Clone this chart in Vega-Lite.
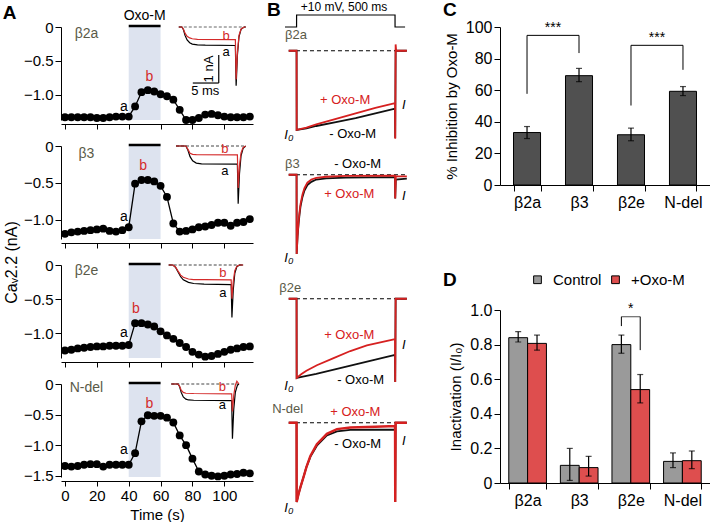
{
"$schema":"https://vega.github.io/schema/vega-lite/v6.json",
"padding":{"left":2,"top":0,"right":0,"bottom":0},
"background":"white",
"config":{"font":"Liberation Sans","view":{"stroke":null},
"axis":{"grid":false,"domainColor":"black","tickColor":"black","labelColor":"black","titleColor":"black","titleFontWeight":"normal","labelFontSize":15,"titleFontSize":15,"tickSize":5,"labelPadding":2,"domainWidth":1,"tickWidth":1,"labelOverlap":false}},
"resolve":{"legend":{"color":"independent"},"scale":{"color":"independent"}},
"datasets":{
"timecourse":[
{"sub":"b2a","t":0,"I":-1.33},{"sub":"b2a","t":4,"I":-1.33},{"sub":"b2a","t":8,"I":-1.33},{"sub":"b2a","t":12,"I":-1.33},{"sub":"b2a","t":16,"I":-1.33},{"sub":"b2a","t":20,"I":-1.34},{"sub":"b2a","t":24,"I":-1.34},{"sub":"b2a","t":28,"I":-1.33},{"sub":"b2a","t":32,"I":-1.32},{"sub":"b2a","t":36,"I":-1.32},{"sub":"b2a","t":40,"I":-1.32},{"sub":"b2a","t":44,"I":-1.17},{"sub":"b2a","t":48,"I":-0.96},{"sub":"b2a","t":52,"I":-0.93},{"sub":"b2a","t":56,"I":-0.95},{"sub":"b2a","t":60,"I":-0.99},{"sub":"b2a","t":64,"I":-1.02},{"sub":"b2a","t":68,"I":-1.07},{"sub":"b2a","t":72,"I":-1.22},{"sub":"b2a","t":76,"I":-1.37},{"sub":"b2a","t":80,"I":-1.37},{"sub":"b2a","t":84,"I":-1.34},{"sub":"b2a","t":88,"I":-1.29},{"sub":"b2a","t":92,"I":-1.28},{"sub":"b2a","t":96,"I":-1.30},{"sub":"b2a","t":100,"I":-1.32},{"sub":"b2a","t":104,"I":-1.33},{"sub":"b2a","t":108,"I":-1.33},{"sub":"b2a","t":112,"I":-1.33},{"sub":"b2a","t":116,"I":-1.32},
{"sub":"b3","t":0,"I":-1.19},{"sub":"b3","t":4,"I":-1.17},{"sub":"b3","t":8,"I":-1.16},{"sub":"b3","t":12,"I":-1.15},{"sub":"b3","t":16,"I":-1.14},{"sub":"b3","t":20,"I":-1.13},{"sub":"b3","t":24,"I":-1.12},{"sub":"b3","t":28,"I":-1.15},{"sub":"b3","t":32,"I":-1.16},{"sub":"b3","t":36,"I":-1.14},{"sub":"b3","t":40,"I":-1.10},{"sub":"b3","t":44,"I":-0.51},{"sub":"b3","t":48,"I":-0.46},{"sub":"b3","t":52,"I":-0.46},{"sub":"b3","t":56,"I":-0.48},{"sub":"b3","t":60,"I":-0.54},{"sub":"b3","t":64,"I":-0.69},{"sub":"b3","t":68,"I":-1.05},{"sub":"b3","t":72,"I":-1.16},{"sub":"b3","t":76,"I":-1.15},{"sub":"b3","t":80,"I":-1.13},{"sub":"b3","t":84,"I":-1.10},{"sub":"b3","t":88,"I":-1.09},{"sub":"b3","t":92,"I":-1.07},{"sub":"b3","t":96,"I":-1.04},{"sub":"b3","t":100,"I":-1.04},{"sub":"b3","t":104,"I":-1.08},{"sub":"b3","t":108,"I":-1.04},{"sub":"b3","t":112,"I":-1.03},{"sub":"b3","t":116,"I":-0.99},
{"sub":"b2e","t":0,"I":-1.25},{"sub":"b2e","t":4,"I":-1.24},{"sub":"b2e","t":8,"I":-1.22},{"sub":"b2e","t":12,"I":-1.21},{"sub":"b2e","t":16,"I":-1.20},{"sub":"b2e","t":20,"I":-1.19},{"sub":"b2e","t":24,"I":-1.19},{"sub":"b2e","t":28,"I":-1.18},{"sub":"b2e","t":32,"I":-1.18},{"sub":"b2e","t":36,"I":-1.18},{"sub":"b2e","t":40,"I":-1.17},{"sub":"b2e","t":44,"I":-0.85},{"sub":"b2e","t":48,"I":-0.85},{"sub":"b2e","t":52,"I":-0.87},{"sub":"b2e","t":56,"I":-0.90},{"sub":"b2e","t":60,"I":-0.97},{"sub":"b2e","t":64,"I":-1.03},{"sub":"b2e","t":68,"I":-1.08},{"sub":"b2e","t":72,"I":-1.14},{"sub":"b2e","t":76,"I":-1.20},{"sub":"b2e","t":80,"I":-1.27},{"sub":"b2e","t":84,"I":-1.31},{"sub":"b2e","t":88,"I":-1.34},{"sub":"b2e","t":92,"I":-1.33},{"sub":"b2e","t":96,"I":-1.30},{"sub":"b2e","t":100,"I":-1.27},{"sub":"b2e","t":104,"I":-1.24},{"sub":"b2e","t":108,"I":-1.22},{"sub":"b2e","t":112,"I":-1.20},{"sub":"b2e","t":116,"I":-1.19},
{"sub":"ndel","t":0,"I":-1.34},{"sub":"ndel","t":4,"I":-1.35},{"sub":"ndel","t":8,"I":-1.34},{"sub":"ndel","t":12,"I":-1.32},{"sub":"ndel","t":16,"I":-1.31},{"sub":"ndel","t":20,"I":-1.31},{"sub":"ndel","t":24,"I":-1.35},{"sub":"ndel","t":28,"I":-1.32},{"sub":"ndel","t":32,"I":-1.32},{"sub":"ndel","t":36,"I":-1.32},{"sub":"ndel","t":40,"I":-1.32},{"sub":"ndel","t":44,"I":-1.13},{"sub":"ndel","t":48,"I":-0.61},{"sub":"ndel","t":52,"I":-0.51},{"sub":"ndel","t":56,"I":-0.52},{"sub":"ndel","t":60,"I":-0.52},{"sub":"ndel","t":64,"I":-0.55},{"sub":"ndel","t":68,"I":-0.63},{"sub":"ndel","t":72,"I":-0.84},{"sub":"ndel","t":76,"I":-1.00},{"sub":"ndel","t":80,"I":-1.22},{"sub":"ndel","t":84,"I":-1.43},{"sub":"ndel","t":88,"I":-1.48},{"sub":"ndel","t":92,"I":-1.50},{"sub":"ndel","t":96,"I":-1.51},{"sub":"ndel","t":100,"I":-1.50},{"sub":"ndel","t":104,"I":-1.48},{"sub":"ndel","t":108,"I":-1.47},{"sub":"ndel","t":112,"I":-1.45},{"sub":"ndel","t":116,"I":-1.46}
],
"insets":[
{"sub":"b2a","cond":"a","t":-0.6,"I":0},{"sub":"b2a","cond":"a","t":0,"I":0},{"sub":"b2a","cond":"a","t":0.3,"I":-0.1},{"sub":"b2a","cond":"a","t":0.6,"I":-0.3},{"sub":"b2a","cond":"a","t":1.0,"I":-0.46},{"sub":"b2a","cond":"a","t":1.5,"I":-0.56},{"sub":"b2a","cond":"a","t":2.0,"I":-0.61},{"sub":"b2a","cond":"a","t":3.0,"I":-0.64},{"sub":"b2a","cond":"a","t":4.5,"I":-0.65},{"sub":"b2a","cond":"a","t":10.3,"I":-0.66},{"sub":"b2a","cond":"a","t":10.45,"I":-2.1},{"sub":"b2a","cond":"a","t":10.7,"I":-1.0},{"sub":"b2a","cond":"a","t":11.0,"I":-0.35},{"sub":"b2a","cond":"a","t":11.4,"I":-0.08},{"sub":"b2a","cond":"a","t":12.0,"I":0},{"sub":"b2a","cond":"a","t":12.3,"I":0},
{"sub":"b2a","cond":"b","t":-0.6,"I":0},{"sub":"b2a","cond":"b","t":0,"I":0},{"sub":"b2a","cond":"b","t":0.3,"I":-0.08},{"sub":"b2a","cond":"b","t":0.6,"I":-0.22},{"sub":"b2a","cond":"b","t":1.0,"I":-0.33},{"sub":"b2a","cond":"b","t":1.5,"I":-0.39},{"sub":"b2a","cond":"b","t":2.0,"I":-0.42},{"sub":"b2a","cond":"b","t":3.0,"I":-0.44},{"sub":"b2a","cond":"b","t":10.3,"I":-0.45},{"sub":"b2a","cond":"b","t":10.45,"I":-1.87},{"sub":"b2a","cond":"b","t":10.7,"I":-0.9},{"sub":"b2a","cond":"b","t":11.0,"I":-0.3},{"sub":"b2a","cond":"b","t":11.4,"I":-0.07},{"sub":"b2a","cond":"b","t":12.0,"I":0},{"sub":"b2a","cond":"b","t":12.3,"I":0},
{"sub":"b3","cond":"a","t":-1.9,"I":0},{"sub":"b3","cond":"a","t":0,"I":0},{"sub":"b3","cond":"a","t":0.4,"I":-0.15},{"sub":"b3","cond":"a","t":0.8,"I":-0.38},{"sub":"b3","cond":"a","t":1.3,"I":-0.53},{"sub":"b3","cond":"a","t":2.0,"I":-0.61},{"sub":"b3","cond":"a","t":3.0,"I":-0.64},{"sub":"b3","cond":"a","t":9.9,"I":-0.65},{"sub":"b3","cond":"a","t":10.05,"I":-2.06},{"sub":"b3","cond":"a","t":10.3,"I":-1.0},{"sub":"b3","cond":"a","t":10.6,"I":-0.35},{"sub":"b3","cond":"a","t":11.0,"I":-0.08},{"sub":"b3","cond":"a","t":11.5,"I":0},
{"sub":"b3","cond":"b","t":-1.9,"I":0},{"sub":"b3","cond":"b","t":0,"I":0},{"sub":"b3","cond":"b","t":0.4,"I":-0.12},{"sub":"b3","cond":"b","t":0.8,"I":-0.26},{"sub":"b3","cond":"b","t":1.3,"I":-0.3},{"sub":"b3","cond":"b","t":2.0,"I":-0.31},{"sub":"b3","cond":"b","t":9.9,"I":-0.32},{"sub":"b3","cond":"b","t":10.05,"I":-1.5},{"sub":"b3","cond":"b","t":10.3,"I":-0.7},{"sub":"b3","cond":"b","t":10.6,"I":-0.25},{"sub":"b3","cond":"b","t":11.0,"I":-0.05},{"sub":"b3","cond":"b","t":11.5,"I":0},
{"sub":"b2e","cond":"a","t":-0.8,"I":0},{"sub":"b2e","cond":"a","t":0,"I":0},{"sub":"b2e","cond":"a","t":0.5,"I":-0.08},{"sub":"b2e","cond":"a","t":1.0,"I":-0.25},{"sub":"b2e","cond":"a","t":1.5,"I":-0.42},{"sub":"b2e","cond":"a","t":2.0,"I":-0.53},{"sub":"b2e","cond":"a","t":3.0,"I":-0.62},{"sub":"b2e","cond":"a","t":4.0,"I":-0.66},{"sub":"b2e","cond":"a","t":6.0,"I":-0.68},{"sub":"b2e","cond":"a","t":11.2,"I":-0.7},{"sub":"b2e","cond":"a","t":11.35,"I":-1.87},{"sub":"b2e","cond":"a","t":11.6,"I":-0.9},{"sub":"b2e","cond":"a","t":11.9,"I":-0.3},{"sub":"b2e","cond":"a","t":12.3,"I":-0.06},{"sub":"b2e","cond":"a","t":12.8,"I":0},{"sub":"b2e","cond":"a","t":13.5,"I":0},
{"sub":"b2e","cond":"b","t":-0.8,"I":0},{"sub":"b2e","cond":"b","t":0,"I":0},{"sub":"b2e","cond":"b","t":0.5,"I":-0.07},{"sub":"b2e","cond":"b","t":1.0,"I":-0.22},{"sub":"b2e","cond":"b","t":1.5,"I":-0.36},{"sub":"b2e","cond":"b","t":2.0,"I":-0.44},{"sub":"b2e","cond":"b","t":3.0,"I":-0.5},{"sub":"b2e","cond":"b","t":4.0,"I":-0.52},{"sub":"b2e","cond":"b","t":6.0,"I":-0.52},{"sub":"b2e","cond":"b","t":11.2,"I":-0.53},{"sub":"b2e","cond":"b","t":11.35,"I":-1.2},{"sub":"b2e","cond":"b","t":11.6,"I":-0.6},{"sub":"b2e","cond":"b","t":11.9,"I":-0.2},{"sub":"b2e","cond":"b","t":12.3,"I":-0.04},{"sub":"b2e","cond":"b","t":12.8,"I":0},{"sub":"b2e","cond":"b","t":13.5,"I":0},
{"sub":"ndel","cond":"a","t":-1.3,"I":0},{"sub":"ndel","cond":"a","t":0,"I":0},{"sub":"ndel","cond":"a","t":0.3,"I":-0.1},{"sub":"ndel","cond":"a","t":0.6,"I":-0.3},{"sub":"ndel","cond":"a","t":1.0,"I":-0.46},{"sub":"ndel","cond":"a","t":1.5,"I":-0.54},{"sub":"ndel","cond":"a","t":2.0,"I":-0.57},{"sub":"ndel","cond":"a","t":3.0,"I":-0.58},{"sub":"ndel","cond":"a","t":10.3,"I":-0.59},{"sub":"ndel","cond":"a","t":10.45,"I":-1.95},{"sub":"ndel","cond":"a","t":10.7,"I":-0.9},{"sub":"ndel","cond":"a","t":11.0,"I":-0.3},{"sub":"ndel","cond":"a","t":11.4,"I":-0.05},{"sub":"ndel","cond":"a","t":11.7,"I":0},
{"sub":"ndel","cond":"b","t":-1.3,"I":0},{"sub":"ndel","cond":"b","t":0,"I":0},{"sub":"ndel","cond":"b","t":0.3,"I":-0.08},{"sub":"ndel","cond":"b","t":0.6,"I":-0.22},{"sub":"ndel","cond":"b","t":1.0,"I":-0.3},{"sub":"ndel","cond":"b","t":1.5,"I":-0.33},{"sub":"ndel","cond":"b","t":3.0,"I":-0.34},{"sub":"ndel","cond":"b","t":10.3,"I":-0.35},{"sub":"ndel","cond":"b","t":10.45,"I":-0.98},{"sub":"ndel","cond":"b","t":10.7,"I":-0.4},{"sub":"ndel","cond":"b","t":11.0,"I":-0.05},{"sub":"ndel","cond":"b","t":11.3,"I":0.1},{"sub":"ndel","cond":"b","t":11.7,"I":0}
],
"traces":[
{"sub":"b2a","cond":"ctrl","t":-40,"I":0},{"sub":"b2a","cond":"ctrl","t":0,"I":0},{"sub":"b2a","cond":"ctrl","t":0.5,"I":-1},{"sub":"b2a","cond":"ctrl","t":50,"I":-0.98},{"sub":"b2a","cond":"ctrl","t":100,"I":-0.95},{"sub":"b2a","cond":"ctrl","t":200,"I":-0.9},{"sub":"b2a","cond":"ctrl","t":300,"I":-0.85},{"sub":"b2a","cond":"ctrl","t":400,"I":-0.79},{"sub":"b2a","cond":"ctrl","t":500,"I":-0.73},{"sub":"b2a","cond":"ctrl","t":501,"I":-1.1},{"sub":"b2a","cond":"ctrl","t":503,"I":0},{"sub":"b2a","cond":"ctrl","t":560,"I":0},
{"sub":"b2a","cond":"oxo","t":-40,"I":0},{"sub":"b2a","cond":"oxo","t":0,"I":0},{"sub":"b2a","cond":"oxo","t":0.5,"I":-1},{"sub":"b2a","cond":"oxo","t":50,"I":-0.97},{"sub":"b2a","cond":"oxo","t":100,"I":-0.93},{"sub":"b2a","cond":"oxo","t":200,"I":-0.86},{"sub":"b2a","cond":"oxo","t":300,"I":-0.79},{"sub":"b2a","cond":"oxo","t":400,"I":-0.72},{"sub":"b2a","cond":"oxo","t":500,"I":-0.66},{"sub":"b2a","cond":"oxo","t":501,"I":-1.11},{"sub":"b2a","cond":"oxo","t":503,"I":0.08},{"sub":"b2a","cond":"oxo","t":506,"I":0},{"sub":"b2a","cond":"oxo","t":560,"I":0},
{"sub":"b3","cond":"ctrl","t":-40,"I":0},{"sub":"b3","cond":"ctrl","t":0,"I":0},{"sub":"b3","cond":"ctrl","t":0.5,"I":-1},{"sub":"b3","cond":"ctrl","t":5,"I":-0.78},{"sub":"b3","cond":"ctrl","t":10,"I":-0.62},{"sub":"b3","cond":"ctrl","t":15,"I":-0.5},{"sub":"b3","cond":"ctrl","t":20,"I":-0.4},{"sub":"b3","cond":"ctrl","t":30,"I":-0.28},{"sub":"b3","cond":"ctrl","t":40,"I":-0.2},{"sub":"b3","cond":"ctrl","t":55,"I":-0.13},{"sub":"b3","cond":"ctrl","t":75,"I":-0.09},{"sub":"b3","cond":"ctrl","t":100,"I":-0.06},{"sub":"b3","cond":"ctrl","t":150,"I":-0.045},{"sub":"b3","cond":"ctrl","t":250,"I":-0.035},{"sub":"b3","cond":"ctrl","t":500,"I":-0.03},{"sub":"b3","cond":"ctrl","t":501,"I":-0.3},{"sub":"b3","cond":"ctrl","t":504,"I":-0.06},{"sub":"b3","cond":"ctrl","t":560,"I":-0.05},
{"sub":"b3","cond":"oxo","t":-40,"I":0},{"sub":"b3","cond":"oxo","t":0,"I":0},{"sub":"b3","cond":"oxo","t":0.5,"I":-1},{"sub":"b3","cond":"oxo","t":5,"I":-0.77},{"sub":"b3","cond":"oxo","t":10,"I":-0.6},{"sub":"b3","cond":"oxo","t":15,"I":-0.47},{"sub":"b3","cond":"oxo","t":20,"I":-0.37},{"sub":"b3","cond":"oxo","t":30,"I":-0.25},{"sub":"b3","cond":"oxo","t":40,"I":-0.17},{"sub":"b3","cond":"oxo","t":55,"I":-0.1},{"sub":"b3","cond":"oxo","t":75,"I":-0.06},{"sub":"b3","cond":"oxo","t":100,"I":-0.04},{"sub":"b3","cond":"oxo","t":150,"I":-0.025},{"sub":"b3","cond":"oxo","t":250,"I":-0.015},{"sub":"b3","cond":"oxo","t":500,"I":-0.01},{"sub":"b3","cond":"oxo","t":501,"I":-0.3},{"sub":"b3","cond":"oxo","t":504,"I":-0.02},{"sub":"b3","cond":"oxo","t":560,"I":-0.02},
{"sub":"b2e","cond":"ctrl","t":-40,"I":0},{"sub":"b2e","cond":"ctrl","t":0,"I":0},{"sub":"b2e","cond":"ctrl","t":0.5,"I":-1},{"sub":"b2e","cond":"ctrl","t":100,"I":-0.95},{"sub":"b2e","cond":"ctrl","t":200,"I":-0.89},{"sub":"b2e","cond":"ctrl","t":300,"I":-0.83},{"sub":"b2e","cond":"ctrl","t":400,"I":-0.77},{"sub":"b2e","cond":"ctrl","t":500,"I":-0.71},{"sub":"b2e","cond":"ctrl","t":501,"I":-1.05},{"sub":"b2e","cond":"ctrl","t":503,"I":0},{"sub":"b2e","cond":"ctrl","t":560,"I":0},
{"sub":"b2e","cond":"oxo","t":-40,"I":0},{"sub":"b2e","cond":"oxo","t":0,"I":0},{"sub":"b2e","cond":"oxo","t":0.5,"I":-1},{"sub":"b2e","cond":"oxo","t":25,"I":-0.95},{"sub":"b2e","cond":"oxo","t":50,"I":-0.91},{"sub":"b2e","cond":"oxo","t":103,"I":-0.84},{"sub":"b2e","cond":"oxo","t":188,"I":-0.75},{"sub":"b2e","cond":"oxo","t":273,"I":-0.66},{"sub":"b2e","cond":"oxo","t":357,"I":-0.59},{"sub":"b2e","cond":"oxo","t":500,"I":-0.51},{"sub":"b2e","cond":"oxo","t":501,"I":-1.05},{"sub":"b2e","cond":"oxo","t":503,"I":0},{"sub":"b2e","cond":"oxo","t":560,"I":0},
{"sub":"ndel","cond":"ctrl","t":-40,"I":0},{"sub":"ndel","cond":"ctrl","t":0,"I":0},{"sub":"ndel","cond":"ctrl","t":0.5,"I":-1},{"sub":"ndel","cond":"ctrl","t":10,"I":-0.9},{"sub":"ndel","cond":"ctrl","t":20,"I":-0.81},{"sub":"ndel","cond":"ctrl","t":36,"I":-0.68},{"sub":"ndel","cond":"ctrl","t":50,"I":-0.56},{"sub":"ndel","cond":"ctrl","t":70,"I":-0.43},{"sub":"ndel","cond":"ctrl","t":103,"I":-0.29},{"sub":"ndel","cond":"ctrl","t":154,"I":-0.16},{"sub":"ndel","cond":"ctrl","t":205,"I":-0.11},{"sub":"ndel","cond":"ctrl","t":273,"I":-0.09},{"sub":"ndel","cond":"ctrl","t":500,"I":-0.085},{"sub":"ndel","cond":"ctrl","t":501,"I":-1.0},{"sub":"ndel","cond":"ctrl","t":503,"I":0},{"sub":"ndel","cond":"ctrl","t":560,"I":0},
{"sub":"ndel","cond":"oxo","t":-40,"I":0},{"sub":"ndel","cond":"oxo","t":0,"I":0},{"sub":"ndel","cond":"oxo","t":0.5,"I":-1},{"sub":"ndel","cond":"oxo","t":10,"I":-0.9},{"sub":"ndel","cond":"oxo","t":20,"I":-0.81},{"sub":"ndel","cond":"oxo","t":36,"I":-0.68},{"sub":"ndel","cond":"oxo","t":50,"I":-0.56},{"sub":"ndel","cond":"oxo","t":70,"I":-0.42},{"sub":"ndel","cond":"oxo","t":103,"I":-0.27},{"sub":"ndel","cond":"oxo","t":154,"I":-0.14},{"sub":"ndel","cond":"oxo","t":205,"I":-0.08},{"sub":"ndel","cond":"oxo","t":273,"I":-0.06},{"sub":"ndel","cond":"oxo","t":400,"I":-0.05},{"sub":"ndel","cond":"oxo","t":500,"I":-0.04},{"sub":"ndel","cond":"oxo","t":501,"I":-1.0},{"sub":"ndel","cond":"oxo","t":503,"I":0},{"sub":"ndel","cond":"oxo","t":560,"I":0}
],
"protocol":[{"t":-59,"mV":-80},{"t":0,"mV":-80},{"t":0.1,"mV":10},{"t":500,"mV":10},{"t":500.1,"mV":-80},{"t":551,"mV":-80}],
"inhib":[{"sub":"β2a","mean":33.2,"lo":29.4,"hi":37.0},{"sub":"β3","mean":69.2,"lo":65.4,"hi":73.8},{"sub":"β2e","mean":31.8,"lo":28.0,"hi":36.0},{"sub":"N-del","mean":59.3,"lo":56.6,"hi":62.3}],
"bracketsC":[{"x1":"β2a","x2":"β3","yTop":94.7,"yL":57.7,"yR":83.5},{"x1":"β2e","x2":"N-del","yTop":88.4,"yL":50.3,"yR":72.9}],
"inact":[{"sub":"β2a","cond":"Control","mean":0.84,"lo":0.815,"hi":0.875},{"sub":"β2a","cond":"+Oxo-M","mean":0.807,"lo":0.768,"hi":0.855},{"sub":"β3","cond":"Control","mean":0.102,"lo":0.015,"hi":0.2},{"sub":"β3","cond":"+Oxo-M","mean":0.089,"lo":0.04,"hi":0.154},{"sub":"β2e","cond":"Control","mean":0.8,"lo":0.75,"hi":0.855},{"sub":"β2e","cond":"+Oxo-M","mean":0.54,"lo":0.463,"hi":0.627},{"sub":"N-del","cond":"Control","mean":0.125,"lo":0.089,"hi":0.174},{"sub":"N-del","cond":"+Oxo-M","mean":0.129,"lo":0.083,"hi":0.185}],
"bracketD":[{"sub":"β2e","cond":"Control","y1":0.907,"y2":0.961},{"sub":"β2e","cond":"+Oxo-M","y1":0.768,"y2":0.961}]
},
"spacing":13,
"hconcat":[
{"vconcat":[
{"width":192,"height":93,
"layer":[
{"encoding":{"x":{"field":"t","type":"quantitative","scale":{"domain":[-2.5,118],"nice":false,"zero":false},"axis":{"title":null,"values":[0,20,40,60,80,100],"labels":false,"offset":4}},"y":{"field":"I","type":"quantitative","scale":{"domain":[-1.37,0],"nice":false,"zero":false},"axis":{"title":null,"values":[0,-0.5,-1],"labelExpr":"datum.value == 0 ? '0' : format(datum.value, '.1f')","tickSize":6}}},
"layer":[
{"data":{"name":"timecourse"},"transform":[{"filter":"datum.sub=='b2a' && datum.t==0"}],"mark":{"type":"rect","color":"#dde3ef"},"encoding":{"x":{"datum":40},"x2":{"datum":60},"y":{"datum":0},"y2":{"datum":-1.37}}},
{"data":{"name":"timecourse"},"transform":[{"filter":"datum.sub=='b2a' && datum.t==0"}],"mark":{"type":"rule","color":"black","strokeWidth":2.5},"encoding":{"x":{"datum":40},"x2":{"datum":60},"y":{"datum":0.015}}},
{"data":{"name":"timecourse"},"transform":[{"filter":"datum.sub=='b2a' && datum.t==0"}],"mark":{"type":"text","fontSize":14,"color":"black","baseline":"middle"},"encoding":{"x":{"datum":50},"y":{"datum":0.16},"text":{"value":"Oxo-M"}}},
{"data":{"name":"timecourse"},"transform":[{"filter":"datum.sub=='b2a' && datum.t==0"}],"mark":{"type":"text","fontSize":19,"fontWeight":"bold","color":"black","baseline":"alphabetic","align":"left"},"encoding":{"x":{"datum":-39},"y":{"datum":0.118},"text":{"value":"A"}}},
{"data":{"name":"timecourse"},"transform":[{"filter":"datum.sub=='b2a'"}],"mark":{"type":"line","color":"black","strokeWidth":1.3}},
{"data":{"name":"timecourse"},"transform":[{"filter":"datum.sub=='b2a'"}],"mark":{"type":"circle","size":62,"color":"black","opacity":1}},
{"data":{"name":"timecourse"},"transform":[{"filter":"datum.sub=='b2a' && datum.t==0"}],"mark":{"type":"text","fontSize":14,"color":"black","baseline":"middle"},"encoding":{"x":{"datum":37},"y":{"datum":-1.18},"text":{"value":"a"}}},
{"data":{"name":"timecourse"},"transform":[{"filter":"datum.sub=='b2a' && datum.t==0"}],"mark":{"type":"text","fontSize":14,"color":"#d42a2a","baseline":"middle"},"encoding":{"x":{"datum":53},"y":{"datum":-0.74},"text":{"value":"b"}}},
{"data":{"name":"timecourse"},"transform":[{"filter":"datum.sub=='b2a' && datum.t==0"}],"mark":{"type":"text","fontSize":14,"color":"#5a5a48","baseline":"middle"},"encoding":{"x":{"datum":13.5},"y":{"datum":-0.1},"text":{"value":"β2a"}}}
]},
{"encoding":{"x":{"field":"t","type":"quantitative","scale":{"domain":[-23.3,13.7],"nice":false,"zero":false},"axis":{"domain":false,"ticks":false,"labels":false,"title":null,"minExtent":0,"maxExtent":0}},"y":{"field":"I","type":"quantitative","scale":{"domain":[-3.32,0],"nice":false,"zero":false},"axis":{"domain":false,"ticks":false,"labels":false,"title":null,"minExtent":0,"maxExtent":0}}},
"layer":[
{"data":{"name":"insets"},"transform":[{"filter":"datum.sub=='b2a' && datum.cond=='a' && datum.t==0"}],"mark":{"type":"rule","strokeDash":[3,2],"color":"#666","strokeWidth":1},"encoding":{"x":{"datum":-0.6},"x2":{"datum":12.3},"y":{"datum":0}}},
{"data":{"name":"insets"},"transform":[{"filter":"datum.sub=='b2a' && datum.cond=='a'"}],"mark":{"type":"line","color":"black","strokeWidth":1.2}},
{"data":{"name":"insets"},"transform":[{"filter":"datum.sub=='b2a' && datum.cond=='b'"}],"mark":{"type":"line","color":"#d42a2a","strokeWidth":1.2}},
{"data":{"name":"insets"},"transform":[{"filter":"datum.sub=='b2a' && datum.cond=='a' && datum.t==0"}],"mark":{"type":"rule","color":"black","strokeWidth":1.2},"encoding":{"x":{"datum":7.1},"y":{"datum":-1},"y2":{"datum":-2}}},
{"data":{"name":"insets"},"transform":[{"filter":"datum.sub=='b2a' && datum.cond=='a' && datum.t==0"}],"mark":{"type":"rule","color":"black","strokeWidth":1.2},"encoding":{"x":{"datum":2.1},"x2":{"datum":7.1},"y":{"datum":-2}}},
{"data":{"name":"insets"},"transform":[{"filter":"datum.sub=='b2a' && datum.cond=='a' && datum.t==0"}],"mark":{"type":"text","fontSize":13,"angle":270,"baseline":"middle","color":"black"},"encoding":{"x":{"datum":5.2},"y":{"datum":-1.5},"text":{"value":"1 nA"}}},
{"data":{"name":"insets"},"transform":[{"filter":"datum.sub=='b2a' && datum.cond=='a' && datum.t==0"}],"mark":{"type":"text","fontSize":13,"baseline":"middle","color":"black"},"encoding":{"x":{"datum":4.5},"y":{"datum":-2.3},"text":{"value":"5 ms"}}},
{"data":{"name":"insets"},"transform":[{"filter":"datum.sub=='b2a' && datum.cond=='a' && datum.t==0"}],"mark":{"type":"text","fontSize":13,"baseline":"middle","color":"#d42a2a"},"encoding":{"x":{"datum":8.5},"y":{"datum":-0.32},"text":{"value":"b"}}},
{"data":{"name":"insets"},"transform":[{"filter":"datum.sub=='b2a' && datum.cond=='a' && datum.t==0"}],"mark":{"type":"text","fontSize":13,"baseline":"middle","color":"black"},"encoding":{"x":{"datum":8.5},"y":{"datum":-0.9},"text":{"value":"a"}}}
]}
],
"resolve":{"scale":{"x":"independent","y":"independent"}}},

{"width":192,"height":93,
"layer":[
{"encoding":{"x":{"field":"t","type":"quantitative","scale":{"domain":[-2.5,118],"nice":false,"zero":false},"axis":{"title":null,"values":[0,20,40,60,80,100],"labels":false,"offset":4}},"y":{"field":"I","type":"quantitative","scale":{"domain":[-1.26,0],"nice":false,"zero":false},"axis":{"title":null,"values":[0,-0.5,-1],"labelExpr":"datum.value == 0 ? '0' : format(datum.value, '.1f')","tickSize":6}}},
"layer":[
{"data":{"name":"timecourse"},"transform":[{"filter":"datum.sub=='b3' && datum.t==0"}],"mark":{"type":"rect","color":"#dde3ef"},"encoding":{"x":{"datum":40},"x2":{"datum":60},"y":{"datum":0},"y2":{"datum":-1.26}}},
{"data":{"name":"timecourse"},"transform":[{"filter":"datum.sub=='b3' && datum.t==0"}],"mark":{"type":"rule","color":"black","strokeWidth":2.5},"encoding":{"x":{"datum":40},"x2":{"datum":60},"y":{"datum":0.015}}},
{"data":{"name":"timecourse"},"transform":[{"filter":"datum.sub=='b3'"}],"mark":{"type":"line","color":"black","strokeWidth":1.3}},
{"data":{"name":"timecourse"},"transform":[{"filter":"datum.sub=='b3'"}],"mark":{"type":"circle","size":62,"color":"black","opacity":1}},
{"data":{"name":"timecourse"},"transform":[{"filter":"datum.sub=='b3' && datum.t==0"}],"mark":{"type":"text","fontSize":14,"color":"black","baseline":"middle"},"encoding":{"x":{"datum":37},"y":{"datum":-0.96},"text":{"value":"a"}}},
{"data":{"name":"timecourse"},"transform":[{"filter":"datum.sub=='b3' && datum.t==0"}],"mark":{"type":"text","fontSize":14,"color":"#d42a2a","baseline":"middle"},"encoding":{"x":{"datum":49},"y":{"datum":-0.27},"text":{"value":"b"}}},
{"data":{"name":"timecourse"},"transform":[{"filter":"datum.sub=='b3' && datum.t==0"}],"mark":{"type":"text","fontSize":14,"color":"#5a5a48","baseline":"middle"},"encoding":{"x":{"datum":13.5},"y":{"datum":-0.11},"text":{"value":"β3"}}}
]},
{"encoding":{"x":{"field":"t","type":"quantitative","scale":{"domain":[-24.0,12.9],"nice":false,"zero":false},"axis":{"domain":false,"ticks":false,"labels":false,"title":null,"minExtent":0,"maxExtent":0}},"y":{"field":"I","type":"quantitative","scale":{"domain":[-3.32,0],"nice":false,"zero":false},"axis":{"domain":false,"ticks":false,"labels":false,"title":null,"minExtent":0,"maxExtent":0}}},
"layer":[
{"data":{"name":"insets"},"transform":[{"filter":"datum.sub=='b3' && datum.cond=='a' && datum.t==0"}],"mark":{"type":"rule","strokeDash":[3,2],"color":"#444","strokeWidth":1},"encoding":{"x":{"datum":-1.9},"x2":{"datum":11.5},"y":{"datum":0}}},
{"data":{"name":"insets"},"transform":[{"filter":"datum.sub=='b3' && datum.cond=='a'"}],"mark":{"type":"line","color":"black","strokeWidth":1.2}},
{"data":{"name":"insets"},"transform":[{"filter":"datum.sub=='b3' && datum.cond=='b'"}],"mark":{"type":"line","color":"#d42a2a","strokeWidth":1.2}},
{"data":{"name":"insets"},"transform":[{"filter":"datum.sub=='b3' && datum.cond=='a' && datum.t==0"}],"mark":{"type":"text","fontSize":13,"baseline":"middle","color":"#d42a2a"},"encoding":{"x":{"datum":7.5},"y":{"datum":-0.11},"text":{"value":"b"}}},
{"data":{"name":"insets"},"transform":[{"filter":"datum.sub=='b3' && datum.cond=='a' && datum.t==0"}],"mark":{"type":"text","fontSize":13,"baseline":"middle","color":"black"},"encoding":{"x":{"datum":7.5},"y":{"datum":-0.9},"text":{"value":"a"}}}
]}
],
"resolve":{"scale":{"x":"independent","y":"independent"}}},

{"width":192,"height":93,
"layer":[
{"encoding":{"x":{"field":"t","type":"quantitative","scale":{"domain":[-2.5,118],"nice":false,"zero":false},"axis":{"title":null,"values":[0,20,40,60,80,100],"labels":false,"offset":4}},"y":{"field":"I","type":"quantitative","scale":{"domain":[-1.36,0],"nice":false,"zero":false},"axis":{"title":"Caᵥ2.2 (nA)","titleFontSize":16,"titleY":-3,"titlePadding":4,"values":[0,-0.5,-1],"labelExpr":"datum.value == 0 ? '0' : format(datum.value, '.1f')","tickSize":6}}},
"layer":[
{"data":{"name":"timecourse"},"transform":[{"filter":"datum.sub=='b2e' && datum.t==0"}],"mark":{"type":"rect","color":"#dde3ef"},"encoding":{"x":{"datum":40},"x2":{"datum":60},"y":{"datum":0},"y2":{"datum":-1.36}}},
{"data":{"name":"timecourse"},"transform":[{"filter":"datum.sub=='b2e' && datum.t==0"}],"mark":{"type":"rule","color":"black","strokeWidth":2.5},"encoding":{"x":{"datum":40},"x2":{"datum":60},"y":{"datum":0.015}}},
{"data":{"name":"timecourse"},"transform":[{"filter":"datum.sub=='b2e'"}],"mark":{"type":"line","color":"black","strokeWidth":1.3}},
{"data":{"name":"timecourse"},"transform":[{"filter":"datum.sub=='b2e'"}],"mark":{"type":"circle","size":62,"color":"black","opacity":1}},
{"data":{"name":"timecourse"},"transform":[{"filter":"datum.sub=='b2e' && datum.t==0"}],"mark":{"type":"text","fontSize":14,"color":"black","baseline":"middle"},"encoding":{"x":{"datum":37},"y":{"datum":-1.0},"text":{"value":"a"}}},
{"data":{"name":"timecourse"},"transform":[{"filter":"datum.sub=='b2e' && datum.t==0"}],"mark":{"type":"text","fontSize":14,"color":"#d42a2a","baseline":"middle"},"encoding":{"x":{"datum":44.5},"y":{"datum":-0.65},"text":{"value":"b"}}},
{"data":{"name":"timecourse"},"transform":[{"filter":"datum.sub=='b2e' && datum.t==0"}],"mark":{"type":"text","fontSize":14,"color":"#5a5a48","baseline":"middle"},"encoding":{"x":{"datum":13.5},"y":{"datum":-0.09},"text":{"value":"β2e"}}}
]},
{"encoding":{"x":{"field":"t","type":"quantitative","scale":{"domain":[-21.5,15.4],"nice":false,"zero":false},"axis":{"domain":false,"ticks":false,"labels":false,"title":null,"minExtent":0,"maxExtent":0}},"y":{"field":"I","type":"quantitative","scale":{"domain":[-3.32,0],"nice":false,"zero":false},"axis":{"domain":false,"ticks":false,"labels":false,"title":null,"minExtent":0,"maxExtent":0}}},
"layer":[
{"data":{"name":"insets"},"transform":[{"filter":"datum.sub=='b2e' && datum.cond=='a' && datum.t==0"}],"mark":{"type":"rule","strokeDash":[3,2],"color":"#444","strokeWidth":1},"encoding":{"x":{"datum":-0.8},"x2":{"datum":13.5},"y":{"datum":0}}},
{"data":{"name":"insets"},"transform":[{"filter":"datum.sub=='b2e' && datum.cond=='a'"}],"mark":{"type":"line","color":"black","strokeWidth":1.2}},
{"data":{"name":"insets"},"transform":[{"filter":"datum.sub=='b2e' && datum.cond=='b'"}],"mark":{"type":"line","color":"#d42a2a","strokeWidth":1.2}},
{"data":{"name":"insets"},"transform":[{"filter":"datum.sub=='b2e' && datum.cond=='a' && datum.t==0"}],"mark":{"type":"text","fontSize":13,"baseline":"middle","color":"#d42a2a"},"encoding":{"x":{"datum":9.6},"y":{"datum":-0.29},"text":{"value":"b"}}},
{"data":{"name":"insets"},"transform":[{"filter":"datum.sub=='b2e' && datum.cond=='a' && datum.t==0"}],"mark":{"type":"text","fontSize":13,"baseline":"middle","color":"black"},"encoding":{"x":{"datum":9.6},"y":{"datum":-1.0},"text":{"value":"a"}}}
]}
],
"resolve":{"scale":{"x":"independent","y":"independent"}}},

{"width":192,"height":93,
"layer":[
{"encoding":{"x":{"field":"t","type":"quantitative","scale":{"domain":[-2.5,118],"nice":false,"zero":false},"axis":{"title":"Time (s)","titlePadding":4,"values":[0,20,40,60,80,100],"labels":true,"offset":4}},"y":{"field":"I","type":"quantitative","scale":{"domain":[-1.52,0],"nice":false,"zero":false},"axis":{"title":null,"values":[0,-0.5,-1,-1.5],"labelExpr":"datum.value == 0 ? '0' : format(datum.value, '.1f')","tickSize":6}}},
"layer":[
{"data":{"name":"timecourse"},"transform":[{"filter":"datum.sub=='ndel' && datum.t==0"}],"mark":{"type":"rect","color":"#dde3ef"},"encoding":{"x":{"datum":40},"x2":{"datum":60},"y":{"datum":0},"y2":{"datum":-1.52}}},
{"data":{"name":"timecourse"},"transform":[{"filter":"datum.sub=='ndel' && datum.t==0"}],"mark":{"type":"rule","color":"black","strokeWidth":2.5},"encoding":{"x":{"datum":40},"x2":{"datum":60},"y":{"datum":0.015}}},
{"data":{"name":"timecourse"},"transform":[{"filter":"datum.sub=='ndel'"}],"mark":{"type":"line","color":"black","strokeWidth":1.3}},
{"data":{"name":"timecourse"},"transform":[{"filter":"datum.sub=='ndel'"}],"mark":{"type":"circle","size":62,"color":"black","opacity":1}},
{"data":{"name":"timecourse"},"transform":[{"filter":"datum.sub=='ndel' && datum.t==0"}],"mark":{"type":"text","fontSize":14,"color":"black","baseline":"middle"},"encoding":{"x":{"datum":37},"y":{"datum":-1.08},"text":{"value":"a"}}},
{"data":{"name":"timecourse"},"transform":[{"filter":"datum.sub=='ndel' && datum.t==0"}],"mark":{"type":"text","fontSize":14,"color":"#d42a2a","baseline":"middle"},"encoding":{"x":{"datum":53},"y":{"datum":-0.32},"text":{"value":"b"}}},
{"data":{"name":"timecourse"},"transform":[{"filter":"datum.sub=='ndel' && datum.t==0"}],"mark":{"type":"text","fontSize":14,"color":"#5a5a48","baseline":"middle"},"encoding":{"x":{"datum":13.5},"y":{"datum":-0.07},"text":{"value":"N-del"}}}
]},
{"encoding":{"x":{"field":"t","type":"quantitative","scale":{"domain":[-22.5,14.4],"nice":false,"zero":false},"axis":{"domain":false,"ticks":false,"labels":false,"title":null,"minExtent":0,"maxExtent":0}},"y":{"field":"I","type":"quantitative","scale":{"domain":[-3.32,0],"nice":false,"zero":false},"axis":{"domain":false,"ticks":false,"labels":false,"title":null,"minExtent":0,"maxExtent":0}}},
"layer":[
{"data":{"name":"insets"},"transform":[{"filter":"datum.sub=='ndel' && datum.cond=='a' && datum.t==0"}],"mark":{"type":"rule","strokeDash":[3,2],"color":"#444","strokeWidth":1},"encoding":{"x":{"datum":-1.3},"x2":{"datum":11.7},"y":{"datum":0}}},
{"data":{"name":"insets"},"transform":[{"filter":"datum.sub=='ndel' && datum.cond=='a'"}],"mark":{"type":"line","color":"black","strokeWidth":1.2}},
{"data":{"name":"insets"},"transform":[{"filter":"datum.sub=='ndel' && datum.cond=='b'"}],"mark":{"type":"line","color":"#d42a2a","strokeWidth":1.2}},
{"data":{"name":"insets"},"transform":[{"filter":"datum.sub=='ndel' && datum.cond=='a' && datum.t==0"}],"mark":{"type":"text","fontSize":13,"baseline":"middle","color":"#d42a2a"},"encoding":{"x":{"datum":8.5},"y":{"datum":-0.11},"text":{"value":"b"}}},
{"data":{"name":"insets"},"transform":[{"filter":"datum.sub=='ndel' && datum.cond=='a' && datum.t==0"}],"mark":{"type":"text","fontSize":13,"baseline":"middle","color":"black"},"encoding":{"x":{"datum":8.5},"y":{"datum":-0.75},"text":{"value":"a"}}}
]}
],
"resolve":{"scale":{"x":"independent","y":"independent"}}}
],"spacing":26,"bounds":"flush"},

{"vconcat":[
{"width":147,"height":118,
"layer":[
{"encoding":{"x":{"field":"t","type":"quantitative","scale":{"domain":[-74,672.5],"nice":false,"zero":false},"axis":{"domain":false,"ticks":false,"labels":false,"title":null,"minExtent":0,"maxExtent":0}},"y":{"field":"I","type":"quantitative","scale":{"domain":[-1.19,0.3],"nice":false,"zero":false},"axis":{"domain":false,"ticks":false,"labels":false,"title":null,"minExtent":0,"maxExtent":0}}},
"layer":[
{"data":{"name":"traces"},"transform":[{"filter":"datum.sub=='b2a' && datum.cond=='ctrl' && datum.t==0"}],"mark":{"type":"rule","strokeDash":[4,3],"color":"black","strokeWidth":1},"encoding":{"x":{"datum":-3},"x2":{"datum":560},"y":{"datum":0}}},
{"data":{"name":"traces"},"transform":[{"filter":"datum.sub=='b2a' && datum.cond=='ctrl'"}],"mark":{"type":"line","color":"#111","strokeWidth":1.8}},
{"data":{"name":"traces"},"transform":[{"filter":"datum.sub=='b2a' && datum.cond=='oxo'"}],"mark":{"type":"line","color":"#d62020","strokeWidth":1.8}},
{"data":{"name":"traces"},"transform":[{"filter":"datum.sub=='b2a' && datum.cond=='ctrl' && datum.t==0"}],"mark":{"type":"text","fontSize":19,"fontWeight":"bold","color":"black","baseline":"alphabetic","align":"left"},"encoding":{"x":{"datum":-150},"y":{"datum":0.443},"text":{"value":"B"}}},
{"data":{"name":"traces"},"transform":[{"filter":"datum.sub=='b2a' && datum.cond=='ctrl' && datum.t==0"}],"mark":{"type":"text","fontSize":13,"color":"#5a5a48","baseline":"middle","align":"left"},"encoding":{"x":{"datum":-59},"y":{"datum":0.2},"text":{"value":"β2a"}}},
{"data":{"name":"traces"},"transform":[{"filter":"datum.sub=='b2a' && datum.cond=='ctrl' && datum.t==0"}],"mark":{"type":"text","fontSize":13,"color":"#d62020","baseline":"middle","align":"left"},"encoding":{"x":{"datum":119},"y":{"datum":-0.62},"text":{"value":"+ Oxo-M"}}},
{"data":{"name":"traces"},"transform":[{"filter":"datum.sub=='b2a' && datum.cond=='ctrl' && datum.t==0"}],"mark":{"type":"text","fontSize":13,"color":"black","baseline":"middle","align":"left"},"encoding":{"x":{"datum":166},"y":{"datum":-1.05},"text":{"value":"- Oxo-M"}}},
{"data":{"name":"traces"},"transform":[{"filter":"datum.sub=='b2a' && datum.cond=='ctrl' && datum.t==0"}],"mark":{"type":"text","fontSize":13,"color":"black","baseline":"middle","fontStyle":"italic"},"encoding":{"x":{"datum":545},"y":{"datum":-0.68},"text":{"value":"I"}}},
{"data":{"name":"traces"},"transform":[{"filter":"datum.sub=='b2a' && datum.cond=='ctrl' && datum.t==0"}],"mark":{"type":"text","fontSize":13,"color":"black","baseline":"middle","fontStyle":"italic"},"encoding":{"x":{"datum":-39},"y":{"datum":-1.06},"text":{"value":"I₀"}}}
]},
{"encoding":{"x":{"field":"t","type":"quantitative","scale":{"domain":[-74,672.5],"nice":false,"zero":false},"axis":{"domain":false,"ticks":false,"labels":false,"title":null,"minExtent":0,"maxExtent":0}},"y":{"field":"mV","type":"quantitative","scale":{"domain":[-965,-80],"nice":false,"zero":false},"axis":{"domain":false,"ticks":false,"labels":false,"title":null,"minExtent":0,"maxExtent":0}}},
"layer":[
{"data":{"name":"protocol"},"mark":{"type":"line","color":"black","strokeWidth":1.2}},
{"data":{"name":"protocol"},"transform":[{"filter":"datum.t==0"}],"mark":{"type":"text","fontSize":12,"color":"black","baseline":"middle"},"encoding":{"x":{"datum":241},"y":{"datum":70},"text":{"value":"+10 mV, 500 ms"}}}
]}
],
"resolve":{"scale":{"y":"independent"}}},

{"width":147,"height":118,
"encoding":{"x":{"field":"t","type":"quantitative","scale":{"domain":[-74,672.5],"nice":false,"zero":false},"axis":{"domain":false,"ticks":false,"labels":false,"title":null,"minExtent":0,"maxExtent":0}},"y":{"field":"I","type":"quantitative","scale":{"domain":[-1.19,0.3],"nice":false,"zero":false},"axis":{"domain":false,"ticks":false,"labels":false,"title":null,"minExtent":0,"maxExtent":0}}},
"layer":[
{"data":{"name":"traces"},"transform":[{"filter":"datum.sub=='b3' && datum.cond=='ctrl' && datum.t==0"}],"mark":{"type":"rule","strokeDash":[4,3],"color":"black","strokeWidth":1},"encoding":{"x":{"datum":-3},"x2":{"datum":560},"y":{"datum":0}}},
{"data":{"name":"traces"},"transform":[{"filter":"datum.sub=='b3' && datum.cond=='ctrl'"}],"mark":{"type":"line","color":"#111","strokeWidth":1.8}},
{"data":{"name":"traces"},"transform":[{"filter":"datum.sub=='b3' && datum.cond=='oxo'"}],"mark":{"type":"line","color":"#d62020","strokeWidth":1.8}},
{"data":{"name":"traces"},"transform":[{"filter":"datum.sub=='b3' && datum.cond=='ctrl' && datum.t==0"}],"mark":{"type":"text","fontSize":13,"color":"#5a5a48","baseline":"middle","align":"left"},"encoding":{"x":{"datum":-59},"y":{"datum":0.13},"text":{"value":"β3"}}},
{"data":{"name":"traces"},"transform":[{"filter":"datum.sub=='b3' && datum.cond=='ctrl' && datum.t==0"}],"mark":{"type":"text","fontSize":13,"color":"black","baseline":"middle","align":"left"},"encoding":{"x":{"datum":191},"y":{"datum":0.13},"text":{"value":"- Oxo-M"}}},
{"data":{"name":"traces"},"transform":[{"filter":"datum.sub=='b3' && datum.cond=='ctrl' && datum.t==0"}],"mark":{"type":"text","fontSize":13,"color":"#d62020","baseline":"middle","align":"left"},"encoding":{"x":{"datum":140},"y":{"datum":-0.24},"text":{"value":"+ Oxo-M"}}},
{"data":{"name":"traces"},"transform":[{"filter":"datum.sub=='b3' && datum.cond=='ctrl' && datum.t==0"}],"mark":{"type":"text","fontSize":13,"color":"black","baseline":"middle","fontStyle":"italic"},"encoding":{"x":{"datum":545},"y":{"datum":-0.27},"text":{"value":"I"}}},
{"data":{"name":"traces"},"transform":[{"filter":"datum.sub=='b3' && datum.cond=='ctrl' && datum.t==0"}],"mark":{"type":"text","fontSize":13,"color":"black","baseline":"middle","fontStyle":"italic"},"encoding":{"x":{"datum":-39},"y":{"datum":-1.05},"text":{"value":"I₀"}}}
]},

{"width":147,"height":118,
"encoding":{"x":{"field":"t","type":"quantitative","scale":{"domain":[-74,672.5],"nice":false,"zero":false},"axis":{"domain":false,"ticks":false,"labels":false,"title":null,"minExtent":0,"maxExtent":0}},"y":{"field":"I","type":"quantitative","scale":{"domain":[-1.19,0.3],"nice":false,"zero":false},"axis":{"domain":false,"ticks":false,"labels":false,"title":null,"minExtent":0,"maxExtent":0}}},
"layer":[
{"data":{"name":"traces"},"transform":[{"filter":"datum.sub=='b2e' && datum.cond=='ctrl' && datum.t==0"}],"mark":{"type":"rule","strokeDash":[4,3],"color":"black","strokeWidth":1},"encoding":{"x":{"datum":-3},"x2":{"datum":560},"y":{"datum":0}}},
{"data":{"name":"traces"},"transform":[{"filter":"datum.sub=='b2e' && datum.cond=='ctrl'"}],"mark":{"type":"line","color":"#111","strokeWidth":1.8}},
{"data":{"name":"traces"},"transform":[{"filter":"datum.sub=='b2e' && datum.cond=='oxo'"}],"mark":{"type":"line","color":"#d62020","strokeWidth":1.8}},
{"data":{"name":"traces"},"transform":[{"filter":"datum.sub=='b2e' && datum.cond=='ctrl' && datum.t==0"}],"mark":{"type":"text","fontSize":13,"color":"#5a5a48","baseline":"middle","align":"left"},"encoding":{"x":{"datum":-88},"y":{"datum":0.14},"text":{"value":"β2e"}}},
{"data":{"name":"traces"},"transform":[{"filter":"datum.sub=='b2e' && datum.cond=='ctrl' && datum.t==0"}],"mark":{"type":"text","fontSize":13,"color":"#d62020","baseline":"middle","align":"left"},"encoding":{"x":{"datum":140},"y":{"datum":-0.46},"text":{"value":"+ Oxo-M"}}},
{"data":{"name":"traces"},"transform":[{"filter":"datum.sub=='b2e' && datum.cond=='ctrl' && datum.t==0"}],"mark":{"type":"text","fontSize":13,"color":"black","baseline":"middle","align":"left"},"encoding":{"x":{"datum":206},"y":{"datum":-1.03},"text":{"value":"- Oxo-M"}}},
{"data":{"name":"traces"},"transform":[{"filter":"datum.sub=='b2e' && datum.cond=='ctrl' && datum.t==0"}],"mark":{"type":"text","fontSize":13,"color":"black","baseline":"middle","fontStyle":"italic"},"encoding":{"x":{"datum":545},"y":{"datum":-0.59},"text":{"value":"I"}}},
{"data":{"name":"traces"},"transform":[{"filter":"datum.sub=='b2e' && datum.cond=='ctrl' && datum.t==0"}],"mark":{"type":"text","fontSize":13,"color":"black","baseline":"middle","fontStyle":"italic"},"encoding":{"x":{"datum":-39},"y":{"datum":-1.1},"text":{"value":"I₀"}}}
]},

{"width":147,"height":118,
"encoding":{"x":{"field":"t","type":"quantitative","scale":{"domain":[-74,672.5],"nice":false,"zero":false},"axis":{"domain":false,"ticks":false,"labels":false,"title":null,"minExtent":0,"maxExtent":0}},"y":{"field":"I","type":"quantitative","scale":{"domain":[-1.19,0.3],"nice":false,"zero":false},"axis":{"domain":false,"ticks":false,"labels":false,"title":null,"minExtent":0,"maxExtent":0}}},
"layer":[
{"data":{"name":"traces"},"transform":[{"filter":"datum.sub=='ndel' && datum.cond=='ctrl' && datum.t==0"}],"mark":{"type":"rule","strokeDash":[4,3],"color":"black","strokeWidth":1},"encoding":{"x":{"datum":-3},"x2":{"datum":560},"y":{"datum":0}}},
{"data":{"name":"traces"},"transform":[{"filter":"datum.sub=='ndel' && datum.cond=='ctrl'"}],"mark":{"type":"line","color":"#111","strokeWidth":1.8}},
{"data":{"name":"traces"},"transform":[{"filter":"datum.sub=='ndel' && datum.cond=='oxo'"}],"mark":{"type":"line","color":"#d62020","strokeWidth":2.4}},
{"data":{"name":"traces"},"transform":[{"filter":"datum.sub=='ndel' && datum.cond=='ctrl' && datum.t==0"}],"mark":{"type":"text","fontSize":13,"color":"#5a5a48","baseline":"middle","align":"left"},"encoding":{"x":{"datum":-124},"y":{"datum":0.18},"text":{"value":"N-del"}}},
{"data":{"name":"traces"},"transform":[{"filter":"datum.sub=='ndel' && datum.cond=='ctrl' && datum.t==0"}],"mark":{"type":"text","fontSize":13,"color":"#d62020","baseline":"middle","align":"left"},"encoding":{"x":{"datum":171},"y":{"datum":0.13},"text":{"value":"+ Oxo-M"}}},
{"data":{"name":"traces"},"transform":[{"filter":"datum.sub=='ndel' && datum.cond=='ctrl' && datum.t==0"}],"mark":{"type":"text","fontSize":13,"color":"black","baseline":"middle","align":"left"},"encoding":{"x":{"datum":191},"y":{"datum":-0.27},"text":{"value":"- Oxo-M"}}},
{"data":{"name":"traces"},"transform":[{"filter":"datum.sub=='ndel' && datum.cond=='ctrl' && datum.t==0"}],"mark":{"type":"text","fontSize":13,"color":"black","baseline":"middle","fontStyle":"italic"},"encoding":{"x":{"datum":545},"y":{"datum":-0.23},"text":{"value":"I"}}},
{"data":{"name":"traces"},"transform":[{"filter":"datum.sub=='ndel' && datum.cond=='ctrl' && datum.t==0"}],"mark":{"type":"text","fontSize":13,"color":"black","baseline":"middle","fontStyle":"italic"},"encoding":{"x":{"datum":-39},"y":{"datum":-1.08},"text":{"value":"I₀"}}}
]}
],"spacing":6},

{"vconcat":[
{"width":210,"height":158,
"encoding":{"x":{"field":"sub","type":"nominal","sort":["β2a","β3","β2e","N-del"],"scale":{"domain":["β2a","β3","β2e","N-del"],"paddingInner":0.48,"paddingOuter":0.26},"axis":{"title":null,"labelAngle":0,"tickBand":"extent","labelFontSize":16,"tickSize":6,"labelPadding":3}}},
"layer":[
{"data":{"name":"inhib"},"mark":{"type":"bar","color":"#505050","stroke":"black","strokeWidth":1},"encoding":{"y":{"field":"mean","type":"quantitative","scale":{"domain":[0,100],"nice":false},"axis":{"title":"% Inhibition by Oxo-M","titleFontSize":15,"titlePadding":6,"labelFontSize":16,"values":[0,20,40,60,80,100],"tickSize":6,"labelOverlap":false}}}},
{"data":{"name":"inhib"},"mark":{"type":"rule","color":"black","strokeWidth":1.2},"encoding":{"y":{"field":"lo","type":"quantitative","axis":{"title":"% Inhibition by Oxo-M","titleFontSize":15,"titlePadding":6,"labelFontSize":16,"values":[0,20,40,60,80,100],"tickSize":6,"labelOverlap":false}},"y2":{"field":"hi"}}},
{"data":{"name":"inhib"},"mark":{"type":"tick","color":"black","size":6,"thickness":1.2},"encoding":{"y":{"field":"lo","type":"quantitative","axis":{"title":"% Inhibition by Oxo-M","titleFontSize":15,"titlePadding":6,"labelFontSize":16,"values":[0,20,40,60,80,100],"tickSize":6,"labelOverlap":false}}}},
{"data":{"name":"inhib"},"mark":{"type":"tick","color":"black","size":6,"thickness":1.2},"encoding":{"y":{"field":"hi","type":"quantitative","axis":{"title":"% Inhibition by Oxo-M","titleFontSize":15,"titlePadding":6,"labelFontSize":16,"values":[0,20,40,60,80,100],"tickSize":6,"labelOverlap":false}}}},
{"data":{"name":"inhib"},"transform":[{"filter":"datum.sub=='β2a'"}],"mark":{"type":"text","fontSize":19,"fontWeight":"bold","color":"black","baseline":"alphabetic","align":"left"},"encoding":{"x":{"field":"sub","type":"nominal","bandPosition":-2.61},"y":{"datum":107,"axis":{"title":"% Inhibition by Oxo-M","titleFontSize":15,"titlePadding":6,"labelFontSize":16,"values":[0,20,40,60,80,100],"tickSize":6,"labelOverlap":false}},"text":{"value":"C"}}},
{"data":{"name":"bracketsC"},"mark":{"type":"rule","color":"black","strokeWidth":1},"encoding":{"x":{"field":"x1","type":"nominal","bandPosition":0.5},"x2":{"field":"x2","bandPosition":0.5},"y":{"field":"yTop","type":"quantitative","axis":{"title":"% Inhibition by Oxo-M","titleFontSize":15,"titlePadding":6,"labelFontSize":16,"values":[0,20,40,60,80,100],"tickSize":6,"labelOverlap":false}}}},
{"data":{"name":"bracketsC"},"mark":{"type":"rule","color":"black","strokeWidth":1},"encoding":{"x":{"field":"x1","type":"nominal"},"y":{"field":"yL","type":"quantitative","axis":{"title":"% Inhibition by Oxo-M","titleFontSize":15,"titlePadding":6,"labelFontSize":16,"values":[0,20,40,60,80,100],"tickSize":6,"labelOverlap":false}},"y2":{"field":"yTop"}}},
{"data":{"name":"bracketsC"},"mark":{"type":"rule","color":"black","strokeWidth":1},"encoding":{"x":{"field":"x2","type":"nominal"},"y":{"field":"yR","type":"quantitative","axis":{"title":"% Inhibition by Oxo-M","titleFontSize":15,"titlePadding":6,"labelFontSize":16,"values":[0,20,40,60,80,100],"tickSize":6,"labelOverlap":false}},"y2":{"field":"yTop"}}},
{"data":{"name":"bracketsC"},"mark":{"type":"text","color":"black","fontSize":14,"baseline":"middle"},"encoding":{"x":{"field":"x1","type":"nominal","bandPosition":1.46},"y":{"field":"yTop","type":"quantitative","axis":{"title":"% Inhibition by Oxo-M","titleFontSize":15,"titlePadding":6,"labelFontSize":16,"values":[0,20,40,60,80,100],"tickSize":6,"labelOverlap":false}},"yOffset":{"value":-7},"text":{"value":"***"}}}
]},
{"width":210,"height":173,
"encoding":{"x":{"field":"sub","type":"nominal","sort":["β2a","β3","β2e","N-del"],"scale":{"domain":["β2a","β3","β2e","N-del"],"paddingInner":0.27,"paddingOuter":0.17},"axis":{"title":null,"labelAngle":0,"tickBand":"extent","labelFontSize":16,"tickSize":6,"labelPadding":3}}},
"layer":[
{"data":{"name":"inact"},"mark":{"type":"bar","stroke":"black","strokeWidth":1},"encoding":{"xOffset":{"field":"cond","type":"nominal","scale":{"domain":["Control","+Oxo-M"]}},"y":{"field":"mean","type":"quantitative","scale":{"domain":[0,1],"nice":false},"axis":{"title":"Inactivation (I/I₀)","titleFontSize":15,"titlePadding":6,"labelFontSize":16,"values":[0,0.2,0.4,0.6,0.8,1.0],"labelExpr":"datum.value == 0 ? '0' : format(datum.value, '.1f')","tickSize":6,"labelOverlap":false}},"color":{"field":"cond","type":"nominal","scale":{"domain":["Control","+Oxo-M"],"range":["#9a9a9a","#de4e4e"]},"legend":{"title":null,"orient":"none","legendX":30,"legendY":-38,"direction":"horizontal","symbolType":"square","symbolSize":60,"symbolStrokeColor":"black","symbolStrokeWidth":1,"symbolOpacity":1,"labelFontSize":15,"labelColor":"black","columnPadding":6,"labelOffset":8}}}},
{"data":{"name":"inact"},"mark":{"type":"rule","color":"black","strokeWidth":1.2},"encoding":{"xOffset":{"field":"cond","type":"nominal","scale":{"domain":["Control","+Oxo-M"]}},"y":{"field":"lo","type":"quantitative","axis":{"title":"Inactivation (I/I₀)","titleFontSize":15,"titlePadding":6,"labelFontSize":16,"values":[0,0.2,0.4,0.6,0.8,1.0],"labelExpr":"datum.value == 0 ? '0' : format(datum.value, '.1f')","tickSize":6,"labelOverlap":false}},"y2":{"field":"hi"}}},
{"data":{"name":"inact"},"mark":{"type":"tick","color":"black","size":6,"thickness":1.2},"encoding":{"xOffset":{"field":"cond","type":"nominal","scale":{"domain":["Control","+Oxo-M"]}},"y":{"field":"lo","type":"quantitative","axis":{"title":"Inactivation (I/I₀)","titleFontSize":15,"titlePadding":6,"labelFontSize":16,"values":[0,0.2,0.4,0.6,0.8,1.0],"labelExpr":"datum.value == 0 ? '0' : format(datum.value, '.1f')","tickSize":6,"labelOverlap":false}}}},
{"data":{"name":"inact"},"mark":{"type":"tick","color":"black","size":6,"thickness":1.2},"encoding":{"xOffset":{"field":"cond","type":"nominal","scale":{"domain":["Control","+Oxo-M"]}},"y":{"field":"hi","type":"quantitative","axis":{"title":"Inactivation (I/I₀)","titleFontSize":15,"titlePadding":6,"labelFontSize":16,"values":[0,0.2,0.4,0.6,0.8,1.0],"labelExpr":"datum.value == 0 ? '0' : format(datum.value, '.1f')","tickSize":6,"labelOverlap":false}}}},
{"data":{"name":"inact"},"transform":[{"filter":"datum.sub=='β2a' && datum.cond=='Control'"}],"mark":{"type":"text","fontSize":19,"fontWeight":"bold","color":"black","baseline":"alphabetic","align":"left"},"encoding":{"x":{"field":"sub","type":"nominal","bandPosition":-1.745},"y":{"datum":1.139,"axis":{"title":"Inactivation (I/I₀)","titleFontSize":15,"titlePadding":6,"labelFontSize":16,"values":[0,0.2,0.4,0.6,0.8,1.0],"labelExpr":"datum.value == 0 ? '0' : format(datum.value, '.1f')","tickSize":6,"labelOverlap":false}},"text":{"value":"D"}}},
{"data":{"name":"bracketD"},"mark":{"type":"rule","color":"black","strokeWidth":1},"encoding":{"xOffset":{"field":"cond","type":"nominal","scale":{"domain":["Control","+Oxo-M"]}},"y":{"field":"y1","type":"quantitative","axis":{"title":"Inactivation (I/I₀)","titleFontSize":15,"titlePadding":6,"labelFontSize":16,"values":[0,0.2,0.4,0.6,0.8,1.0],"labelExpr":"datum.value == 0 ? '0' : format(datum.value, '.1f')","tickSize":6,"labelOverlap":false}},"y2":{"field":"y2"}}},
{"data":{"name":"bracketD"},"transform":[{"filter":"datum.cond=='Control'"}],"mark":{"type":"tick","color":"black","size":19,"thickness":1}, "encoding":{"y":{"field":"y2","type":"quantitative","axis":{"title":"Inactivation (I/I₀)","titleFontSize":15,"titlePadding":6,"labelFontSize":16,"values":[0,0.2,0.4,0.6,0.8,1.0],"labelExpr":"datum.value == 0 ? '0' : format(datum.value, '.1f')","tickSize":6,"labelOverlap":false}}}},
{"data":{"name":"bracketD"},"transform":[{"filter":"datum.cond=='Control'"}],"mark":{"type":"text","color":"black","fontSize":14,"baseline":"middle"},"encoding":{"y":{"field":"y2","type":"quantitative","axis":{"title":"Inactivation (I/I₀)","titleFontSize":15,"titlePadding":6,"labelFontSize":16,"values":[0,0.2,0.4,0.6,0.8,1.0],"labelExpr":"datum.value == 0 ? '0' : format(datum.value, '.1f')","tickSize":6,"labelOverlap":false}},"yOffset":{"value":-8},"text":{"value":"*"}}}
]}
],"spacing":60,"resolve":{"legend":{"color":"independent"},"scale":{"color":"independent"}}}
]
}
